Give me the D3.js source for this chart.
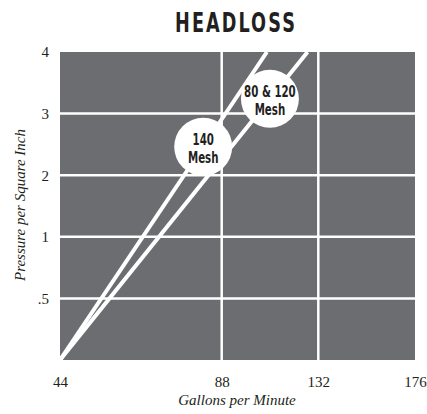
<!DOCTYPE html>
<html>
<head>
<meta charset="utf-8">
<script src="https://cdn.jsdelivr.net/npm/d3@7"></script>
<style>
  html, body { margin: 0; padding: 0; background: #fff; }
  svg { display: block; }
</style>
</head>
<body>
<div id="chart"></div>
<script>
// axis values
const xTicks = [44, 88, 132, 176]
const yLevels = [0, 0.5, 1, 2, 3, 4]
const yTicks = [0.5, 1, 2, 3, 4]
const yTickLabels = ['.5', '1', '2', '3', '4']

// headloss lines (gpm -> psi)
const gpm140 = [44, 108.6]
const psi140 = [0, 4]
const gpm80120 = [44, 127.1]
const psi80120 = [0, 4]

// where the round labels sit on each line (psi)
const labelNames = [['140', 'Mesh'], ['80 & 120', 'Mesh']]
const labelPsi = [2.46, 3.24]

const width = 427, height = 414
const plot = { left: 60, right: 415, top: 52, bottom: 360 }
const bg = '#6c6d71'
const ink = '#231f20'
const serif = '"Liberation Serif", "DejaVu Serif", serif'
const heavy = '"DejaVu Sans", "Liberation Sans", sans-serif'

const svg = d3.select('#chart').append('svg')
    .attr('width', width)
    .attr('height', height)

// x is not even: 44..88 is wider than the rest
const x = d3.scaleLinear()
    .domain(xTicks)
    .range([plot.left, 221.7, 318.3, plot.right])

// y levels are evenly spaced
const step = (plot.bottom - plot.top) / (yLevels.length - 1)
const y = d3.scaleLinear()
    .domain(yLevels)
    .range(yLevels.map((d, i) => plot.bottom - i * step))

svg.append('defs').append('clipPath')
    .attr('id', 'clip')
    .append('rect')
    .attr('x', plot.left).attr('y', plot.top)
    .attr('width', plot.right - plot.left)
    .attr('height', plot.bottom - plot.top)

svg.append('rect')
    .attr('x', plot.left).attr('y', plot.top)
    .attr('width', plot.right - plot.left)
    .attr('height', plot.bottom - plot.top)
    .attr('fill', bg)

// grid
const grid = svg.append('g').attr('stroke', '#fff').attr('stroke-width', 2.5)
grid.selectAll('.hg')
    .data(yTicks.filter(d => d < 4))
    .enter().append('line')
    .attr('x1', plot.left).attr('x2', plot.right)
    .attr('y1', d => y(d)).attr('y2', d => y(d))
grid.selectAll('.vg')
    .data(xTicks.slice(1, -1))
    .enter().append('line')
    .attr('y1', plot.top).attr('y2', plot.bottom)
    .attr('x1', d => x(d)).attr('x2', d => x(d))

// lines
const series = [
    gpm140.map((g, i) => [g, psi140[i]]),
    gpm80120.map((g, i) => [g, psi80120[i]]),
]
const line = d3.line().x(d => x(d[0])).y(d => y(d[1]))
svg.append('g')
    .attr('clip-path', 'url(#clip)')
    .selectAll('path')
    .data(series)
    .enter().append('path')
    .attr('d', line)
    .attr('fill', 'none')
    .attr('stroke', '#fff')
    .attr('stroke-width', 4)

// round labels, placed on their line in pixel space
const labels = svg.append('g')
series.forEach((s, i) => {
    const p0 = [x(s[0][0]), y(s[0][1])]
    const p1 = [x(s[1][0]), y(s[1][1])]
    const cy = y(labelPsi[i])
    const t = (cy - p0[1]) / (p1[1] - p0[1])
    const cx = p0[0] + t * (p1[0] - p0[0])
    const g = labels.append('g').attr('transform', `translate(${cx},${cy})`)
    g.append('circle').attr('r', 29).attr('fill', '#fff')
    // two separate texts so the tight leading stays readable
    labelNames[i].forEach((word, j) => {
        g.append('text')
            .attr('transform', `translate(0,${j ? 16.5 : -2}) scale(0.64,1)`)
            .attr('text-anchor', 'middle')
            .style('font-family', heavy)
            .style('font-weight', 'bold')
            .style('font-size', '16px')
            .attr('fill', ink)
            .text(word)
    })
})

// axes
const xAxis = svg.append('g')
    .attr('transform', `translate(0,${plot.bottom})`)
    .call(d3.axisBottom(x).tickValues(xTicks).tickSize(0).tickPadding(16).tickFormat(d3.format('d')))
const yAxis = svg.append('g')
    .attr('transform', `translate(${plot.left},0)`)
    .call(d3.axisLeft(y).tickValues(yTicks).tickSize(0).tickPadding(11)
        .tickFormat((d, i) => yTickLabels[i]))
;[xAxis, yAxis].forEach(a => {
    a.select('.domain').remove()
    a.selectAll('text')
        .style('font-family', serif)
        .style('font-size', '15px')
        .attr('fill', ink)
})

// titles
svg.append('text')
    .attr('transform', 'translate(236,32) scale(0.68,1)')
    .attr('text-anchor', 'middle')
    .style('font-family', heavy)
    .style('font-weight', 'bold')
    .style('font-size', '26px')
    .style('letter-spacing', '3px')
    .attr('fill', ink)
    .text('HEADLOSS')

svg.append('text')
    .attr('x', 237).attr('y', 405)
    .attr('text-anchor', 'middle')
    .style('font-family', serif)
    .style('font-style', 'italic')
    .style('font-size', '15px')
    .attr('fill', ink)
    .text('Gallons per Minute')

svg.append('text')
    .attr('transform', 'translate(25,205) rotate(-90)')
    .attr('text-anchor', 'middle')
    .style('font-family', serif)
    .style('font-style', 'italic')
    .style('font-size', '15px')
    .attr('fill', ink)
    .text('Pressure per Square Inch')
</script>
</body>
</html>
